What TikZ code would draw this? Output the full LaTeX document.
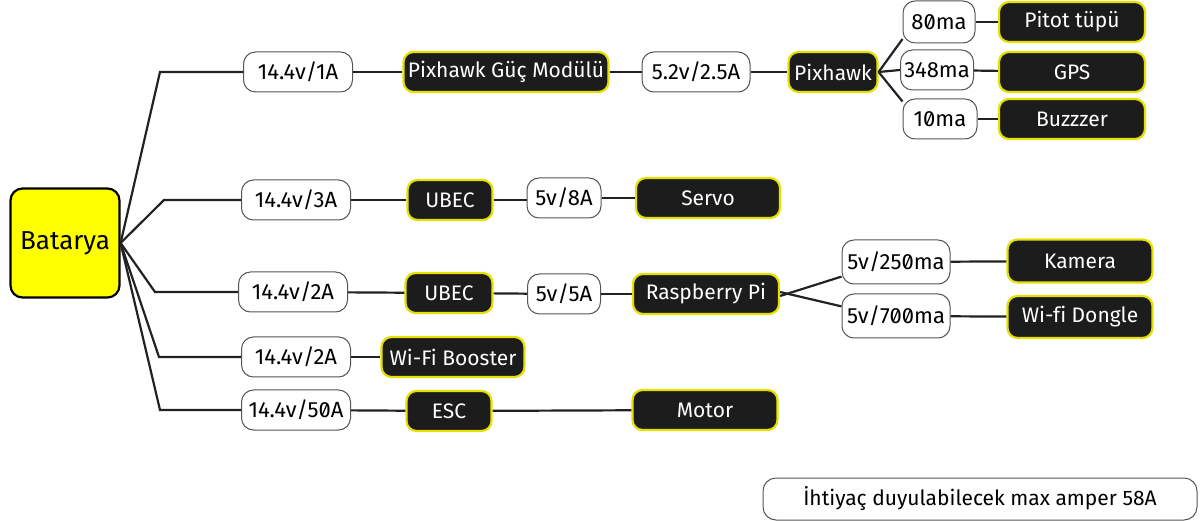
\documentclass[tikz,border=0pt]{standalone}
\usepackage{fontspec}
\setmainfont{Fira Sans}[Numbers=SlashedZero,Ligatures=NoCommon]
\definecolor{wire}{HTML}{222222}
\definecolor{lblline}{HTML}{555555}
\definecolor{devfill}{HTML}{1C1C1C}
\definecolor{devedge}{HTML}{E6E000}
\definecolor{batfill}{HTML}{FFFF00}
\begin{document}
\begin{tikzpicture}[x=1pt,y=-1pt,
  wirestyle/.style={draw=wire,line width=2.2pt},
  lbl/.style={draw=lblline,line width=1pt,fill=white,rounded corners=12pt,
    minimum height=40pt,inner sep=0pt,text=black,font=\fontsize{22}{25}\selectfont},
  dev/.style={draw=devedge,line width=2.2pt,fill=devfill,rounded corners=10pt,
    minimum height=40pt,inner sep=0pt,text=white,font=\fontsize{21}{24}\selectfont},
  bat/.style={draw=black,line width=2.2pt,fill=batfill,rounded corners=12pt,
    minimum width=109pt,minimum height=109pt,inner sep=0pt,text=black,
    font=\fontsize{26}{29}\selectfont}]
\useasboundingbox (0,0) rectangle (1200,521);

% battery
\node[bat] (bat) at (65,243) {Batarya};

% first-level supply labels
\node[lbl,minimum width=109pt] (s1) at (298,72) {14.4v/1A};
\node[lbl,minimum width=109pt] (s2) at (296,200) {14.4v/3A};
\node[lbl,minimum width=109pt] (s3) at (293,292) {14.4v/2A};
\node[lbl,minimum width=109pt] (s4) at (296,357) {14.4v/2A};
\node[lbl,minimum width=109pt] (s5) at (296,410) {14.4v/50A};

% branch corners
\coordinate (k1) at (160,72);
\coordinate (k2) at (164,200);
\coordinate (k3) at (155,292);
\coordinate (k4) at (159,357);
\coordinate (k5) at (160,410);

% row 1: Pixhawk chain
\node[dev,minimum width=205pt] (pgm) at (506,72) {Pixhawk Güç Modülü};
\node[lbl,minimum width=108pt] (v52) at (696,72) {5.2v/2.5A};
\node[dev,minimum width=89pt] (pix) at (833,72) {Pixhawk};
\node[lbl,minimum width=72pt,minimum height=42pt] (m80) at (939,22) {80ma};
\node[lbl,minimum width=73pt] (m348) at (937,70) {348ma};
\node[lbl,minimum width=74pt] (m10) at (940,119) {10ma};
\node[dev,minimum width=146pt] (pitot) at (1072,22) {Pitot tüpü};
\node[dev,minimum width=146pt] (gps) at (1072,72) {GPS};
\node[dev,minimum width=146pt] (buz) at (1072,119) {Buzzzer};

% row 2: servo supply
\node[dev,minimum width=85pt] (ubec1) at (450,200) {UBEC};
\node[lbl,minimum width=74pt] (v8) at (564,198) {5v/8A};
\node[dev,minimum width=144pt] (servo) at (708,198) {Servo};

% row 3: Raspberry Pi supply
\node[dev,minimum width=87pt] (ubec2) at (449,293) {UBEC};
\node[lbl,minimum width=73pt] (v5) at (564,294) {5v/5A};
\node[dev,minimum width=146pt] (rpi) at (706,294) {Raspberry Pi};
\node[lbl,minimum width=108pt,minimum height=44pt] (v250) at (896,262) {5v/250ma};
\node[lbl,minimum width=108pt,minimum height=44pt] (v700) at (896,316) {5v/700ma};
\node[dev,minimum width=145pt,minimum height=43pt] (kam) at (1080,261) {Kamera};
\node[dev,minimum width=145pt,minimum height=42pt] (dongle) at (1080,317) {Wi-fi Dongle};

% row 4 and row 5
\node[dev,minimum width=143pt] (wfb) at (453,357) {Wi-Fi Booster};
\node[dev,minimum width=85pt] (esc) at (449,411) {ESC};
\node[dev,minimum width=145pt] (motor) at (705,410) {Motor};

% note
\node[lbl,minimum width=434pt,minimum height=42pt,rounded corners=13pt,
  font=\fontsize{21}{24}\selectfont] (note) at (980,499)
  {İhtiyaç duyulabilecek max amper 58A};

% connectors
\draw[wirestyle] (bat.east) -- (k1) -- (s1.west);
\draw[wirestyle] (bat.east) -- (k2) -- (s2.west);
\draw[wirestyle] (bat.east) -- (k3) -- (s3.west);
\draw[wirestyle] (bat.east) -- (k4) -- (s4.west);
\draw[wirestyle] (bat.east) -- (k5) -- (s5.west);

\draw[wirestyle] (s1) -- (pgm);
\draw[wirestyle] (pgm) -- (v52);
\draw[wirestyle] (v52) -- (pix);
\draw[wirestyle] (pix.east) -- (m80.205);
\draw[wirestyle] (pix.east) -- (m348.west);
\draw[wirestyle] (pix.east) -- (m10.155);
\draw[wirestyle] (m80) -- (pitot);
\draw[wirestyle] (m348) -- (gps);
\draw[wirestyle] (m10) -- (buz);

\draw[wirestyle] (s2) -- (ubec1);
\draw[wirestyle] (ubec1.east) -- (ubec1.east -| v8.west);
\draw[wirestyle] (v8) -- (servo);

\draw[wirestyle] (s3) -- (ubec2);
\draw[wirestyle] (ubec2) -- (v5);
\draw[wirestyle] (v5) -- (rpi);
\draw[wirestyle] ([yshift=-2pt]rpi.east) -- (v250.195);
\draw[wirestyle] ([yshift=2pt]rpi.east) -- (v700.170);
\draw[wirestyle] (v250) -- (kam);
\draw[wirestyle] (v700) -- (dongle);

\draw[wirestyle] (s4) -- (wfb);
\draw[wirestyle] (s5) -- (esc);
\draw[wirestyle] (esc) -- (motor);
\end{tikzpicture}
\end{document}
